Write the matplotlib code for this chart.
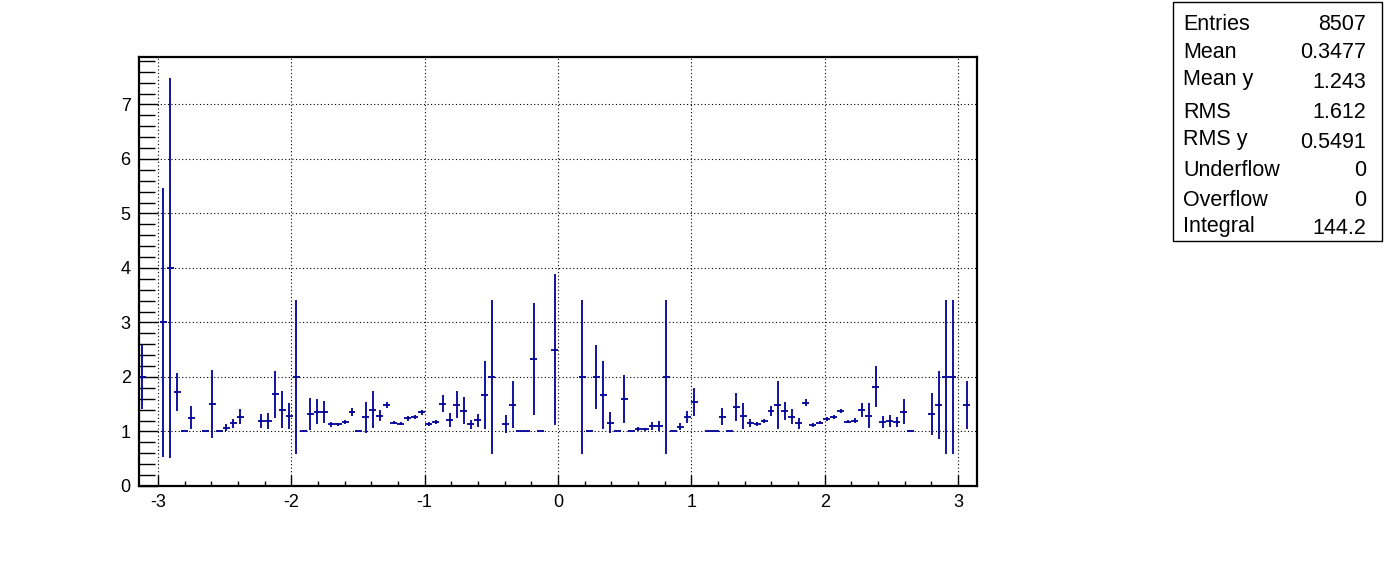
import numpy as np
import matplotlib.pyplot as plt
from matplotlib.ticker import MultipleLocator
from matplotlib.patches import Rectangle

plt.rcParams['font.family'] = ['Liberation Sans', 'DejaVu Sans']
plt.rcParams['axes.unicode_minus'] = False

# profile: 120 bins over [-pi, pi], only filled bins listed
n_bins = 120
phi_min, phi_max = -np.pi, np.pi

bin_index = [0, 3, 4, 5, 6, 7, 9, 10, 11, 12, 13, 14, 17, 18, 19, 20, 21, 22, 23,
             24, 25, 26, 27, 28, 29, 30, 31, 32, 33, 34, 35, 36, 37, 38, 39, 40,
             41, 42, 43, 44, 45, 46, 47, 48, 49, 50, 52, 53, 54, 55, 56, 57, 59,
             63, 64, 65, 66, 67, 68, 69, 70, 71, 72, 73, 74, 75, 76, 77, 78, 79,
             81, 82, 83, 84, 85, 86, 87, 88, 89, 90, 91, 92, 93, 94, 95, 96, 97,
             98, 99, 100, 101, 102, 103, 104, 105, 106, 107, 108, 109, 110, 113,
             114, 115, 116, 118]
mean_y = [2.0, 3.0, 4.0, 1.73, 1.0, 1.25, 1.0, 1.5, 1.0, 1.07, 1.15, 1.27, 1.19, 1.19, 1.68, 1.40, 1.29, 2.0, 1.0,
          1.32, 1.36, 1.36, 1.13, 1.13, 1.17, 1.36, 1.0, 1.26, 1.40, 1.29, 1.49, 1.16, 1.14, 1.24, 1.27, 1.35,
          1.13, 1.18, 1.51, 1.21, 1.49, 1.38, 1.13, 1.21, 1.67, 2.0, 1.14, 1.49, 1.0, 1.0, 2.33, 1.0, 2.5,
          2.0, 1.0, 2.0, 1.67, 1.16, 1.0, 1.60, 1.0, 1.05, 1.04, 1.10, 1.10, 2.0, 1.0, 1.09, 1.27, 1.54,
          1.0, 1.0, 1.27, 1.0, 1.45, 1.29, 1.16, 1.14, 1.19, 1.37, 1.49, 1.38, 1.27, 1.15, 1.53, 1.12, 1.16,
          1.23, 1.27, 1.38, 1.18, 1.20, 1.40, 1.29, 1.82, 1.18, 1.20, 1.18, 1.36, 1.0, 1.32,
          1.49, 2.0, 2.0, 1.49]
err_y = [0.59, 2.47, 3.48, 0.35, 0.0, 0.21, 0.0, 0.62, 0.0, 0.07, 0.085, 0.14, 0.125, 0.15, 0.43, 0.34, 0.24, 1.41, 0.0,
         0.29, 0.23, 0.20, 0.05, 0.03, 0.035, 0.07, 0.0, 0.29, 0.34, 0.10, 0.06, 0.03, 0.025, 0.04, 0.04, 0.04,
         0.035, 0.035, 0.16, 0.13, 0.25, 0.25, 0.08, 0.12, 0.62, 1.41, 0.16, 0.43, 0.0, 0.0, 1.03, 0.0, 1.38,
         1.41, 0.0, 0.59, 0.62, 0.19, 0.0, 0.44, 0.0, 0.04, 0.03, 0.08, 0.10, 1.41, 0.0, 0.06, 0.11, 0.25,
         0.0, 0.0, 0.16, 0.0, 0.25, 0.24, 0.07, 0.04, 0.04, 0.09, 0.44, 0.165, 0.14, 0.10, 0.07, 0.03, 0.03,
         0.04, 0.04, 0.04, 0.025, 0.04, 0.13, 0.235, 0.375, 0.11, 0.11, 0.09, 0.23, 0.0, 0.39,
         0.62, 1.41, 1.41, 0.44]

stat_names = ["Entries", "Mean", "Mean y", "RMS", "RMS y", "Underflow", "Overflow", "Integral"]
stat_values = ["8507", "0.3477", "1.243", "1.612", "0.5491", "0", "0", "144.2"]

W, H = 1396, 572
fig = plt.figure(figsize=(W / 100, H / 100), dpi=100)
ax = fig.add_axes([139 / W, 86 / H, 838 / W, 429 / H])

width = (phi_max - phi_min) / n_bins
x = phi_min + (np.array(bin_index) + 0.5) * width

ax.errorbar(x, mean_y, yerr=err_y, xerr=width / 2, fmt='none',
            ecolor='#00009a', elinewidth=1.3, capsize=0, zorder=3)

ax.set_xlim(phi_min, phi_max)
ax.set_ylim(0, 7.87)
ax.xaxis.set_major_locator(MultipleLocator(1))
ax.xaxis.set_minor_locator(MultipleLocator(0.2))
ax.yaxis.set_major_locator(MultipleLocator(1))
ax.yaxis.set_minor_locator(MultipleLocator(0.2))

ax.set_axisbelow(True)
ax.grid(True, which='major', color='black', linestyle=(0, (1, 2.2)), linewidth=0.8)

ax.tick_params(axis='both', which='both', direction='in', labelsize=13, width=1)
ax.tick_params(axis='x', which='major', length=8, pad=6)
ax.tick_params(axis='x', which='minor', length=3.6)
ax.tick_params(axis='y', which='major', length=14, pad=6)
ax.tick_params(axis='y', which='minor', length=11.5)
for s in ax.spines.values():
    s.set_linewidth(1.6)

# stats box
fig.patches.append(Rectangle((1173 / W, 1 - 241 / H), 209 / W, 239 / H,
                             transform=fig.transFigure, fill=False,
                             edgecolor='black', linewidth=1))
name_mid = [22, 51, 78, 110, 137, 168, 198, 224]
value_mid = [22, 51, 81, 110, 140, 168, 198, 227]
for name, val, yn, yv in zip(stat_names, stat_values, name_mid, value_mid):
    fig.text(1183 / W, 1 - (yn + 7.5) / H, name, fontsize=15.5, ha='left', va='baseline')
    fig.text(1366 / W, 1 - (yv + 7.5) / H, val, fontsize=15.5, ha='right', va='baseline')

fig.savefig('out.png', dpi=100)
